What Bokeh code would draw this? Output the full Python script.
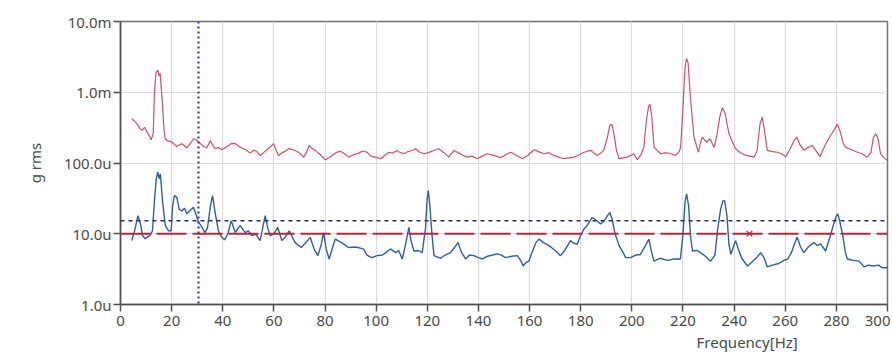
from bokeh.plotting import figure
from bokeh.models import Range1d, FixedTicker, CustomJSTickFormatter, Span, Title
from bokeh.embed import file_html
from bokeh.resources import INLINE

# ---- data (values in micro-g rms) ----
red_f = [4.4, 5.5, 6.4, 7.7, 8.5, 9.4, 10.5, 11.3, 12.0, 12.8, 13.3, 13.9, 14.6, 15.0, 15.5, 16.4, 17.0, 17.5,
         18.5, 20.1, 21.0, 22.0, 23.0, 24.0, 25.0, 26.0, 27.3, 28.6, 29.5, 30.5, 31.5, 32.5, 33.8, 35.1, 36.0,
         37.0, 38.3, 39.6, 41.0, 42.3, 43.5, 44.9, 46.5, 48.1, 49.4, 50.7, 51.7, 52.7, 53.7, 54.6, 56.0, 57.3,
         58.6, 59.9, 60.9, 61.8, 63.0, 64.4, 66.0, 67.7, 69.6, 71.6, 72.7, 73.8, 75.0, 76.2, 77.2, 78.1, 80.1,
         81.4, 82.7, 84.3, 86.0, 87.6, 89.2, 91.0, 93.1, 94.7, 96.4, 98.0, 99.6, 101.7, 103.3, 105.0, 106.5,
         108.0, 109.5, 110.8, 112.5, 114.0, 115.4, 117.0, 118.7, 120.5, 122.5, 124.5, 126.5, 128.4, 130.4,
         132.0, 133.8, 135.6, 137.5, 139.5, 141.5, 143.5, 146.0, 148.7, 150.5, 152.6, 155.0, 157.2, 159.5,
         161.7, 163.5, 165.6, 167.5, 169.5, 171.5, 173.4, 175.5, 177.3, 179.3, 181.3, 183.9, 185.0, 186.5,
         188.0, 189.0, 190.3, 191.4, 192.2, 193.0, 194.0, 195.0, 196.6, 198.2, 199.5, 200.8, 202.1, 203.5,
         204.7, 205.7, 206.6, 207.1, 207.8, 208.7, 210.0, 211.3, 213.2, 215.2, 217.1, 218.5, 219.1, 220.1,
         220.8, 221.4, 222.0, 223.0, 224.3, 225.2, 226.0, 226.8, 227.6, 228.5, 229.3, 230.6, 231.4, 232.2,
         233.3, 234.4, 235.4, 236.5, 238.0, 239.3, 240.6, 242.5, 244.6, 246.2, 247.8, 249.0, 250.1, 251.0,
         251.8, 253.0, 255.0, 256.9, 258.5, 260.2, 262.0, 263.5, 264.5, 265.8, 267.3, 268.9, 270.6, 272.0,
         273.6, 275.0, 276.5, 278.5, 280.4, 281.5, 282.5, 283.6, 285.8, 288.2, 290.0, 292.1, 293.5, 294.5,
         295.4, 296.3, 297.3, 298.5, 300.0]
red_v = [424, 390, 360, 306, 290, 320, 270, 240, 213, 260, 1000, 1900, 2050, 1700, 1850, 700, 300, 220,
         205, 198, 185, 171, 180, 188, 175, 164, 190, 220, 215, 198, 185, 171, 164, 208, 180,
         159, 165, 154, 165, 177, 190, 188, 170, 159, 150, 138, 148, 151, 140, 128, 140, 154,
         170, 188, 150, 128, 138, 147, 160, 154, 142, 121, 140, 177, 160, 151, 140, 132, 111,
         118, 128, 140, 147, 135, 121, 130, 138, 148, 142, 125, 121, 115, 128, 142, 138,
         150, 140, 135, 145, 150, 159, 142, 135, 140, 150, 159, 140, 121, 151,
         140, 130, 121, 125, 115, 125, 135, 128, 119, 130, 142, 128, 115, 130,
         154, 145, 135, 140, 128, 120, 115, 118, 121, 130, 142, 151, 140, 128,
         140, 151, 220, 340, 352, 260, 150, 115, 118, 121, 128, 135, 111, 130,
         166, 400, 640, 673, 450, 166, 150, 135, 140, 135, 128, 145, 166, 700,
         2200, 3000, 2600, 770, 233, 180, 142, 190, 233, 210, 198, 220, 190, 166,
         250, 450, 608, 500, 259, 200, 159, 140, 128, 125, 121, 150, 350, 445,
         300, 151, 145, 142, 135, 123, 160, 210, 233, 180, 151, 165, 177, 150,
         123, 160, 208, 270, 352, 280, 200, 166, 155, 142, 135, 121, 140, 230,
         259, 220, 135, 120, 108]

blue_f = [4.4, 5.5, 6.8, 7.8, 8.6, 9.6, 10.5, 11.5, 12.5, 13.3, 14.0, 14.6, 15.1, 15.6, 16.4, 17.5, 18.8,
          19.8, 20.4, 21.1, 22.0, 23.0, 24.0, 25.0, 26.0, 27.0, 28.5, 29.5, 30.5, 31.5, 33.0, 34.0, 35.2,
          36.0, 37.0, 38.3, 39.5, 40.7, 42.0, 43.3, 44.9, 46.0, 46.8, 48.8, 50.0, 51.4, 53.0, 54.6, 55.6,
          56.6, 57.6, 58.6, 60.0, 61.5, 63.1, 64.5, 66.0, 67.2, 68.3, 70.7, 72.5, 74.2, 75.8, 77.2, 78.5,
          79.4, 80.5, 81.6, 83.0, 84.0, 86.5, 89.2, 92.0, 95.0, 96.4, 98.3, 100.4, 102.5, 104.0, 105.6,
          107.6, 108.8, 110.2, 111.5, 112.8, 113.6, 114.8, 116.5, 118.0, 119.3, 119.9, 120.4, 121.0, 121.8,
          122.6, 125.2, 127.0, 129.1, 130.8, 132.0, 133.3, 135.0, 136.5, 138.2, 140.0, 141.5, 143.5, 145.5,
          147.4, 149.0, 150.6, 153.0, 155.2, 156.5, 157.5, 158.5, 159.7, 161.0, 162.5, 163.7, 165.5, 167.6,
          170.0, 172.1, 174.0, 176.0, 176.8, 178.6, 180.0, 181.3, 182.5, 183.5, 184.5, 185.5, 186.5, 187.8,
          189.0, 190.5, 191.4, 192.3, 193.2, 193.7, 195.0, 196.5, 197.6, 199.5, 201.5, 203.4, 205.0, 206.7,
          207.5, 208.6, 211.0, 213.9, 216.5, 219.0, 220.0, 220.8, 221.4, 222.2, 223.0, 223.7, 225.3, 226.9,
          228.8, 230.8, 232.5, 233.5, 234.7, 235.6, 236.3, 237.2, 238.0, 238.7, 239.7, 240.6, 241.7, 243.0,
          245.2, 247.0, 248.8, 250.4, 251.8, 253.0, 255.0, 257.5, 259.5, 261.0, 262.5, 263.8, 264.7, 266.0,
          267.3, 269.0, 271.2, 272.5, 273.8, 275.8, 277.5, 279.0, 280.0, 280.6, 281.5, 282.6, 283.5, 284.3,
          286.5, 288.9, 290.8, 292.5, 294.5, 296.5, 298.0, 300.0]
blue_v = [8.0, 11, 18, 14, 9.5, 8.5, 9.0, 9.4, 11, 30, 60, 74, 60, 70, 30, 13, 11,
          11, 25, 34.5, 33, 22, 21, 23, 19.2, 21, 23.6, 19, 14.5, 13, 10.4, 12, 25,
          34.5, 20, 11, 9, 8.2, 10, 15.3, 10.4, 12, 13, 10.4, 11, 9.4, 9.8, 8.0, 12,
          18, 12, 9.4, 10, 12.3, 8.0, 9, 11, 9, 7.5, 6.4, 7.5, 8.9, 6, 4.9, 7,
          10.4, 6, 4.4, 6.5, 8.4, 7.5, 6.4, 6.5, 6.1, 5.0, 4.6, 4.9, 5.0, 5.5, 6.1,
          5.4, 5.8, 4.4, 7, 12.3, 8, 5.7, 5.8, 5.4, 12, 30, 40.7, 25, 10,
          4.9, 4.5, 5.0, 5.4, 6.5, 7.5, 5.5, 4.4, 5.0, 4.9, 4.6, 4.4, 4.8, 5.0,
          5.2, 5.0, 4.6, 4.8, 4.9, 4.2, 3.5, 3.9, 4.1, 5.5, 7.5, 8.4, 7.5, 6.8,
          5.8, 4.9, 6, 8, 7.5, 7.1, 9.5, 11.7, 13, 15, 17, 16, 15, 13.7,
          15, 18, 20, 16, 11, 9.4, 6.8, 5.5, 4.6, 4.6, 5, 5.1, 6.5, 8.4,
          6, 4.1, 4.5, 4.2, 4.4, 4.4, 10, 28, 36.6, 25, 9, 5.7, 5.8, 5.4,
          4.8, 4.1, 5, 11, 22, 29, 29.4, 18, 7, 5.1, 6.5, 8, 6, 4.5,
          3.5, 4, 4.6, 5.4, 4.5, 3.4, 3.6, 3.8, 4.2, 4.4, 5.5, 7.5, 8.9, 6.5,
          5.4, 6.5, 7.5, 6.8, 7.2, 5.7, 9, 14, 18, 19, 14, 9, 5.5, 4.4,
          4.2, 4.1, 3.4, 3.6, 3.5, 3.6, 3.3, 3.3]

x_ticks = [0, 20, 40, 60, 80, 100, 120, 140, 160, 180, 200, 220, 240, 260, 280, 300]
y_ticks = [1, 10, 100, 1000, 10000]
cursor_hz = 30.5
alarm_level = 10.0
warning_level = 15.3
marker_hz = 246.0

FONT = "Noto Sans"
TXT = "#4a4a4a"

p = figure(width=890, height=352, output_backend="svg", toolbar_location=None,
           y_axis_type="log", x_range=Range1d(0, 300), y_range=Range1d(1, 10000),
           min_border_left=120, min_border_right=3, min_border_top=21, min_border_bottom=48)
p.background_fill_color = "white"
p.border_fill_color = "white"
p.outline_line_color = "#707070"
p.outline_line_width = 1.5

p.xgrid.ticker = FixedTicker(ticks=x_ticks)
p.ygrid.ticker = FixedTicker(ticks=y_ticks)
p.grid.grid_line_color = "#dcdcdc"
p.grid.grid_line_width = 1.2

p.xaxis.ticker = FixedTicker(ticks=x_ticks)
p.yaxis.ticker = FixedTicker(ticks=y_ticks)
p.yaxis.formatter = CustomJSTickFormatter(code="""
    if (tick >= 500) { return (tick / 1000).toFixed(1) + 'm'; }
    return tick.toFixed(1) + 'u';
""")
for ax in (p.xaxis[0], p.yaxis[0]):
    ax.axis_line_color = "#505050"
    ax.axis_line_width = 1.5
    ax.major_tick_line_color = "#505050"
    ax.major_tick_line_width = 1.5
    ax.major_tick_in = 0
    ax.minor_tick_line_color = None
    ax.major_label_text_font = FONT
    ax.major_label_text_font_size = "15px"
    ax.major_label_text_color = TXT
p.xaxis.major_tick_out = 7
p.xaxis.major_label_standoff = 4
p.yaxis.major_tick_out = 7
p.yaxis.major_label_standoff = 2
p.yaxis.axis_label = "g rms"
p.yaxis.axis_label_text_font = FONT
p.yaxis.axis_label_text_font_size = "15px"
p.yaxis.axis_label_text_font_style = "normal"
p.yaxis.axis_label_text_color = TXT
p.yaxis.axis_label_standoff = 16

# series
p.line(red_f, red_v, line_color="#d05262", line_width=1.2)
p.line(blue_f, blue_v, line_color="#2f5ea8", line_width=1.4)

# reference lines
p.add_layout(Span(location=alarm_level, dimension="width", line_color="#b3283a",
                  line_width=2, line_dash="30 6"))
p.add_layout(Span(location=warning_level, dimension="width", line_color="#2a2a78",
                  line_width=1.5, line_dash="4 4"))
p.add_layout(Span(location=cursor_hz, dimension="height", line_color="#3c3ca0",
                  line_width=2.2, line_dash="2 3"))
p.scatter([marker_hz], [alarm_level], marker="x", size=8, line_color="#c04050", line_width=1.5)

p.add_layout(Title(text="Frequency[Hz]", align="left", offset=576, standoff=2,
                   text_font=FONT, text_font_size="15px", text_font_style="normal",
                   text_color=TXT), "below")

open("out.html", "w").write(file_html(p, INLINE))
